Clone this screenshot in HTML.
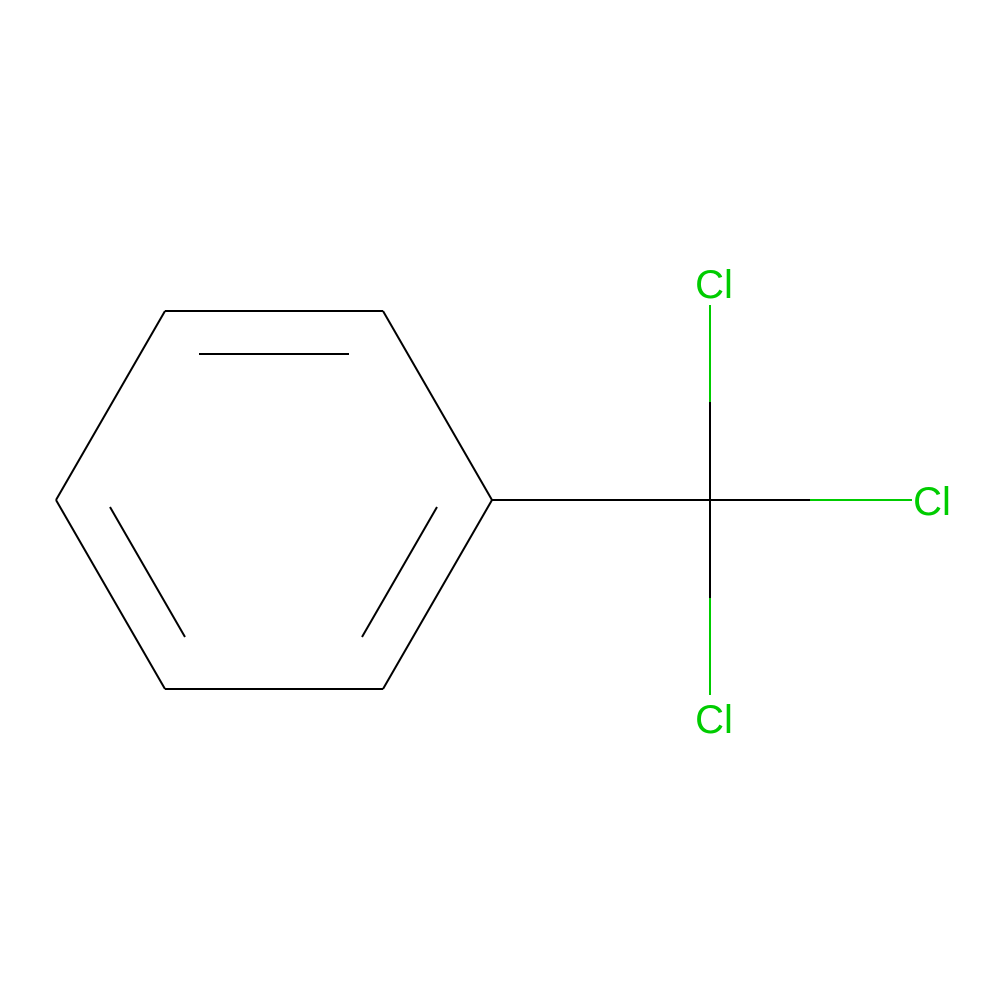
<!DOCTYPE html>
<html><head><meta charset="utf-8"><style>html,body{margin:0;padding:0;background:#fff}svg{display:block}</style></head>
<body>
<svg width="1000" height="1000" viewBox="0 0 1000 1000">
<rect width="1000" height="1000" fill="#fff"/>
<g stroke="#000" stroke-width="2" fill="none">
<line x1="165" y1="311" x2="383" y2="311"/>
<line x1="383" y1="311" x2="492" y2="500"/>
<line x1="492" y1="500" x2="383" y2="689"/>
<line x1="383" y1="689" x2="165" y2="689"/>
<line x1="165" y1="689" x2="56" y2="500"/>
<line x1="56" y1="500" x2="165" y2="311"/>
<line x1="199" y1="354" x2="349" y2="354"/>
<line x1="437" y1="507" x2="362" y2="637"/>
<line x1="110" y1="507" x2="185" y2="637"/>
<line x1="492" y1="500" x2="710" y2="500"/>
<line x1="710" y1="500" x2="710" y2="402"/>
<line x1="710" y1="500" x2="810" y2="500"/>
<line x1="710" y1="500" x2="710" y2="598"/>
</g>
<g stroke="#00CC00" stroke-width="2">
<line x1="710" y1="402" x2="710" y2="305"/>
<line x1="810" y1="500" x2="912" y2="500"/>
<line x1="710" y1="598" x2="710" y2="695"/>
</g>
<g fill="#00CC00" font-family="Liberation Sans, sans-serif" font-size="40" text-anchor="middle">
<text x="714" y="298">Cl</text>
<text x="932" y="515">Cl</text>
<text x="714" y="733">Cl</text>
</g>
</svg>
</body></html>
